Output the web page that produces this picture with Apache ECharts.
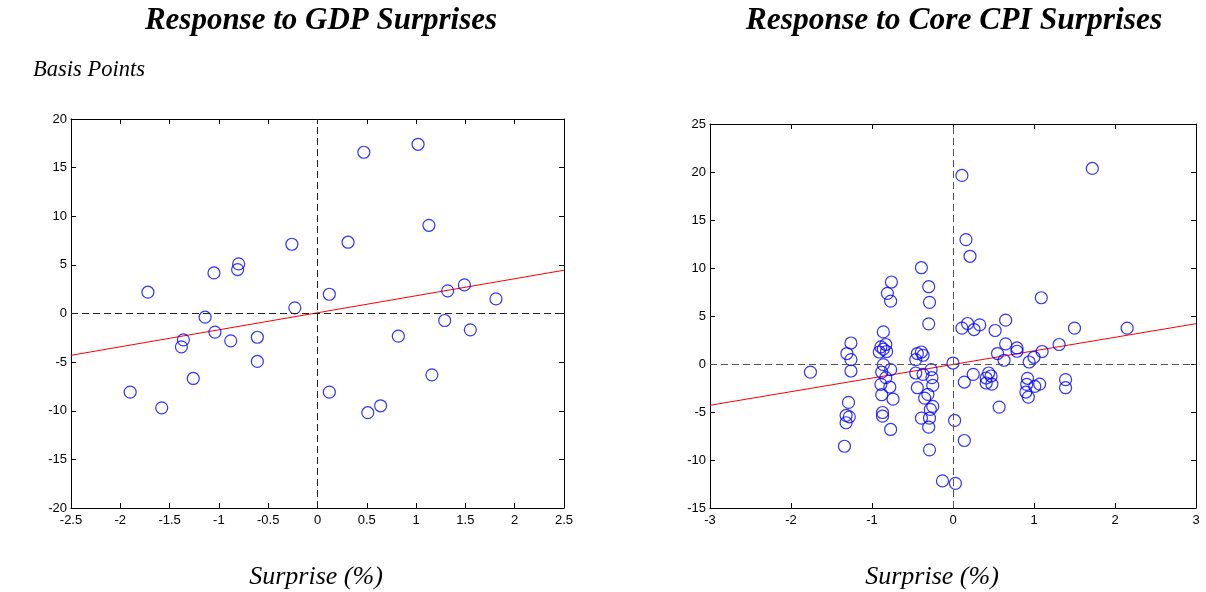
<!DOCTYPE html>
<html>
<head>
<meta charset="utf-8">
<script src="https://cdn.jsdelivr.net/npm/echarts@6/dist/echarts.min.js"></script>
<style>html,body{margin:0;padding:0;background:#fff;}#c{width:1206px;height:592px;}</style>
</head>
<body>
<div id="c"></div>
<script>
// ---- Data ----
const gdpX = [-1.72,-1.05,-0.81,-0.80,-0.26,-0.23,-1.14,0.47,1.02,1.13,0.31,0.12,1.32,1.49,1.81,1.29,-1.36,-1.38,-1.04,-0.88,-0.61,-0.61,-1.26,-1.90,-1.58,1.55,0.82,1.16,0.12,0.64,0.51];
const gdpY = [2.19,4.17,4.52,5.10,7.12,0.58,-0.38,16.58,17.40,9.07,7.33,1.98,2.33,2.94,1.50,-0.72,-2.71,-3.43,-1.92,-2.81,-2.44,-4.93,-6.68,-8.09,-9.70,-1.68,-2.33,-6.31,-8.09,-9.49,-10.20];
const gdpFitX = [-2.5, 2.5];
const gdpFitY = [-4.3, 4.45];

const cpiX = [-0.39,-0.76,-0.81,-0.77,-0.30,-0.29,0.11,1.72,0.16,0.21,1.09,-0.30,-0.86,-1.26,-1.31,-1.26,-1.26,-1.76,-1.29,-1.32,-1.28,-1.32,-1.34,-0.89,-0.83,-0.91,-0.86,-0.82,-0.86,-0.88,-0.77,-0.83,-0.89,-0.78,-0.88,-0.74,-0.87,-0.87,-0.77,-0.46,-0.44,-0.39,-0.37,-0.46,-0.37,-0.27,-0.26,-0.25,-0.44,-0.31,-0.35,-0.25,-0.28,-0.39,-0.29,-0.30,-0.29,-0.13,0.00,0.02,0.03,0.11,0.18,0.26,0.33,0.52,0.65,1.50,2.15,0.65,0.79,0.79,1.31,0.55,1.10,1.00,0.94,0.63,0.25,0.14,0.44,0.47,0.41,0.41,0.48,0.92,0.91,1.01,1.07,0.90,0.93,1.39,1.39,0.57,0.14];
const cpiY = [10.03,8.54,7.36,6.55,8.05,6.42,19.64,20.37,12.96,11.22,6.90,4.18,3.34,2.19,1.09,0.46,-0.73,-0.84,-4.00,-5.36,-5.50,-6.12,-8.57,1.78,2.03,1.25,1.55,1.30,-0.07,-0.84,-0.59,-1.42,-2.12,-2.40,-3.20,-3.66,-5.05,-5.43,-6.82,0.46,1.09,1.25,0.91,-0.94,-1.08,-0.59,-1.42,-2.23,-2.47,-3.17,-3.55,-4.42,-4.73,-5.64,-5.64,-6.58,-8.94,-12.18,0.10,-5.88,-12.43,3.73,4.22,3.59,4.07,3.49,4.57,3.73,3.73,2.09,1.67,1.33,2.03,1.09,1.30,0.70,0.21,0.39,-1.08,-1.88,-0.94,-1.25,-1.46,-1.98,-2.09,-1.49,-2.12,-2.33,-2.09,-2.92,-3.45,-1.63,-2.47,-4.49,-7.97];
const cpiFitX = [-3, 3];
const cpiFitY = [-4.3, 4.2];

const titles = ['Response to GDP Surprises', 'Response to Core CPI Surprises'];
const yUnit = 'Basis Points';
const xName = 'Surprise (%)';

// ---- Chart ----
const zip = (a, b) => a.map((v, i) => [v, b[i]]);
const tickFont = {fontFamily: 'Liberation Sans, Arial', fontSize: 13, color: '#000'};

function axisPair(kind, gridIndex, min, max, interval) {
  const isX = kind === 'x';
  const base = {
    type: 'value', gridIndex, min, max, interval,
    splitLine: {show: false},
    axisLine: {show: true, onZero: false, lineStyle: {color: '#000', width: 1}},
    axisTick: {show: true, inside: true, length: 5, lineStyle: {color: '#000'}},
  };
  return [
    Object.assign({}, base, {
      position: isX ? 'bottom' : 'left',
      axisLabel: Object.assign({show: true, margin: isX ? 6 : 4, showMinLabel: true, showMaxLabel: true}, tickFont)
    }),
    Object.assign({}, base, {
      position: isX ? 'top' : 'right',
      axisLabel: {show: false}
    })
  ];
}

const xAxes = [...axisPair('x', 0, -2.5, 2.5, 0.5), ...axisPair('x', 1, -3, 3, 1)];
const yAxes = [...axisPair('y', 0, -20, 20, 5), ...axisPair('y', 1, -15, 25, 5)];

const zeroLine = (color) => ({
  silent: true, symbol: 'none', label: {show: false},
  lineStyle: {type: [7, 4], color, width: 1},
  data: [{xAxis: 0}, {yAxis: 0}],
  animation: false
});

const serifTitle = (text, left, top, size, bold) => ({
  text, left, top, textAlign: 'center', padding: 0,
  textStyle: {fontFamily: 'Liberation Serif, Times New Roman', fontStyle: 'italic', fontWeight: bold ? 'bold' : 'normal', fontSize: size, color: '#000'}
});

const marker = {color: 'rgba(0,0,0,0)', borderColor: '#0000ff', borderWidth: 1.2};

const option = {
  animation: false,
  backgroundColor: '#fff',
  title: [
    serifTitle(titles[0], 321, 5, 31, true),
    serifTitle(titles[1], 954, 5, 31.5, true),
    Object.assign(serifTitle(yUnit, 33, 59, 22.5, false), {textAlign: 'left'}),
    serifTitle(xName, 316, 564, 26, false),
    serifTitle(xName, 932, 564, 26, false)
  ],
  grid: [
    {left: 71, top: 119, width: 493, height: 389},
    {left: 710, top: 124, width: 486, height: 384}
  ],
  xAxis: xAxes,
  yAxis: yAxes,
  series: [
    {type: 'scatter', xAxisIndex: 0, yAxisIndex: 0, data: zip(gdpX, gdpY), symbol: 'circle', symbolSize: 12,
     itemStyle: marker, markLine: zeroLine('#222'), z: 3},
    {type: 'line', xAxisIndex: 0, yAxisIndex: 0, data: zip(gdpFitX, gdpFitY), showSymbol: false, symbol: 'none',
     lineStyle: {color: '#ff0000', width: 1}, z: 2},
    {type: 'scatter', xAxisIndex: 2, yAxisIndex: 2, data: zip(cpiX, cpiY), symbol: 'circle', symbolSize: 12,
     itemStyle: marker, markLine: zeroLine('#555'), z: 3},
    {type: 'line', xAxisIndex: 2, yAxisIndex: 2, data: zip(cpiFitX, cpiFitY), showSymbol: false, symbol: 'none',
     lineStyle: {color: '#ff0000', width: 1}, z: 2}
  ]
};

const chart = echarts.init(document.getElementById('c'), null, {renderer: 'canvas'});
chart.setOption(option);
</script>
</body>
</html>
